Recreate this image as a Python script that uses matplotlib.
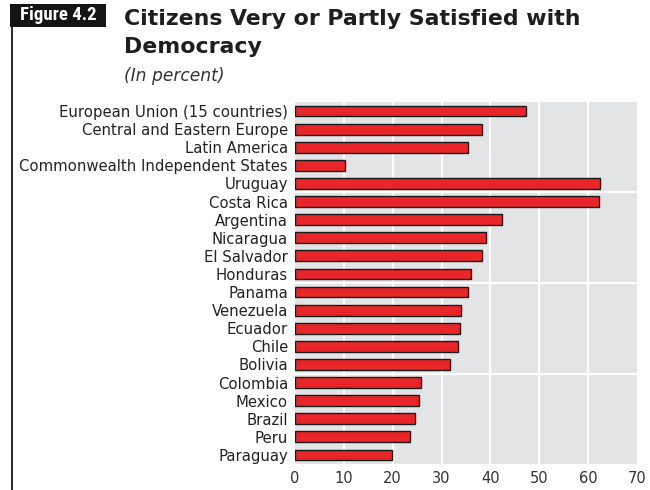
import numpy as np
import matplotlib.pyplot as plt
from matplotlib import font_manager
from matplotlib.patches import Rectangle
from matplotlib.lines import Line2D

# Data
countries = ['European Union (15 countries)', 'Central and Eastern Europe', 'Latin America',
             'Commonwealth Independent States', 'Uruguay', 'Costa Rica', 'Argentina',
             'Nicaragua', 'El Salvador', 'Honduras', 'Panama', 'Venezuela', 'Ecuador',
             'Chile', 'Bolivia', 'Colombia', 'Mexico', 'Brazil', 'Peru', 'Paraguay']
values = [47.3, 38.2, 35.5, 10.2, 62.5, 62.3, 42.3, 39.1, 38.2, 36.0,
          35.5, 34.0, 33.7, 33.4, 31.8, 25.8, 25.3, 24.5, 23.6, 19.9]
xticks = [0, 10, 20, 30, 40, 50, 60, 70]

# pick a narrow font for the "Figure" tag if one exists
names = {f.name for f in font_manager.fontManager.ttflist}
narrow = 'Roboto'
for cand in ['Roboto Condensed', 'Liberation Sans Narrow', 'DejaVu Sans Condensed']:
    if cand in names:
        narrow = cand
        break

fig = plt.figure(figsize=(6.5, 4.9), dpi=100)
ax = fig.add_axes([295/650, 1 - 464/490, 342/650, 362/490])

y = np.arange(len(countries))
ax.set_facecolor('#e3e4e6')
for x in xticks[1:-1]:
    ax.axvline(x, color='white', lw=1.6, zorder=1)
for yy in [4.5, 9.5, 14.5]:
    ax.axhline(yy, color='white', lw=1.6, zorder=1)
ax.barh(y, values, height=0.6, color='#e8262a', edgecolor='#1a1a1a', lw=1.0, zorder=3)

ax.set_xlim(0, 70)
ax.set_ylim(len(countries) - 0.5, -0.5)
ax.set_yticks(y)
ax.set_yticklabels(countries, fontsize=10.7, color='#222222')
ax.set_xticks(xticks)
ax.set_xticklabels([str(t) for t in xticks], fontsize=10.5, color='#333333')
ax.tick_params(length=0, pad=5)
for s in ax.spines.values():
    s.set_visible(False)

# header
fig.patches.append(Rectangle((10/650, 1 - 27/490), 96/650, 23/490, transform=fig.transFigure,
                             facecolor='#141414', edgecolor='none'))
fig.text(58/650, 1 - 15.5/490, 'Figure 4.2', color='white', fontsize=13.5,
         family=narrow, weight='semibold', ha='center', va='center')
fig.lines.append(Line2D([11.7/650, 11.7/650], [1 - 26/490, 0], transform=fig.transFigure,
                        color='#141414', lw=1.3))
fig.text(124/650, 1 - 25/490, 'Citizens Very or Partly Satisfied with',
         fontsize=15.8, family='DejaVu Sans', weight='bold', color='#1e1e1e',
         ha='left', va='baseline')
fig.text(124/650, 1 - 53/490, 'Democracy',
         fontsize=15.8, family='DejaVu Sans', weight='bold', color='#1e1e1e',
         ha='left', va='baseline')
fig.text(124/650, 1 - 81/490, '(In percent)', fontsize=12.3, style='italic',
         family='DejaVu Sans', color='#333333', ha='left', va='baseline')

fig.savefig('out.png', dpi=100)
